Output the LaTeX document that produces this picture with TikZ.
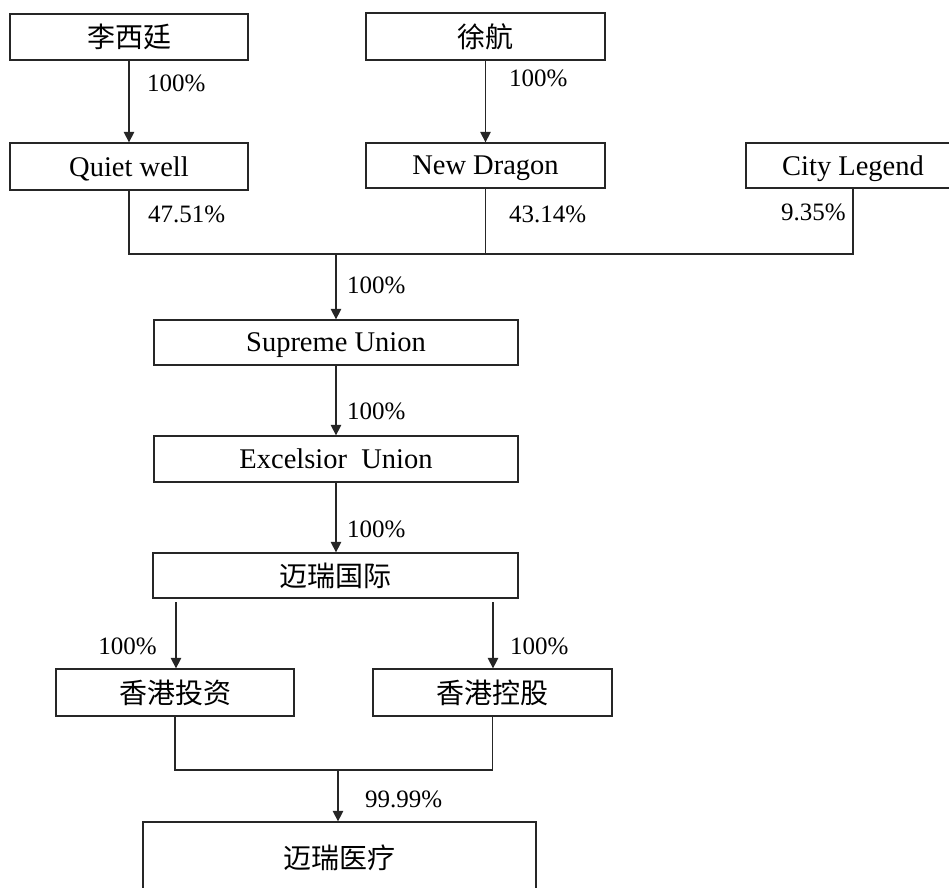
\documentclass[tikz,border=0pt]{standalone}
\usepackage{fontspec}
\setmainfont{Liberation Serif}
\newfontfamily\cjk{Noto Sans CJK SC}
\usetikzlibrary{arrows.meta}
\begin{document}
\begin{tikzpicture}[x=1pt,y=-1pt,
  box/.style={draw=black!85,line width=1.3pt,rectangle,inner sep=0pt,anchor=center},
  lat/.style={font=\fontsize{28.5}{32}\selectfont,text depth=0pt},
  zh/.style={font=\fontsize{28}{32}\selectfont\cjk},
  pct/.style={inner sep=0pt,font=\fontsize{25}{30}\selectfont},
  conn/.style={draw=black!85,line width=1.3pt},
  arr/.style={conn,-{Triangle[length=10.5pt,width=10.5pt]}}]
\useasboundingbox (0,0) rectangle (949,887);
% boxes
\node[box,zh,minimum width=238,minimum height=46] (n1) at (129,37) {李西廷};
\node[box,zh,minimum width=239,minimum height=47] (n2) at (485.5,36.5) {徐航};
\node[box,lat,minimum width=238,minimum height=47] (qw) at (129,166.5) {Quiet well};
\node[box,lat,minimum width=239,minimum height=45] (nd) at (485.5,165.5) {New Dragon};
\node[box,lat,minimum width=214,minimum height=45] (cl) at (853,165.5) {City Legend};
\node[box,lat,minimum width=364,minimum height=45] (su) at (336,342.5) {Supreme Union};
\node[box,lat,minimum width=364,minimum height=46] (eu) at (336,459) {Excelsior\ \ Union};
\node[box,zh,minimum width=365,minimum height=45] (mi) at (335.5,575.5) {迈瑞国际};
\node[box,zh,minimum width=238,minimum height=47] (hi) at (175,692.5) {香港投资};
\node[box,zh,minimum width=239,minimum height=47] (hc) at (492.5,692.5) {香港控股};
\node[box,zh,minimum width=393,minimum height=72] (mm) at (339.5,858) {迈瑞医疗};
% junctions
\coordinate (j1) at (336,254);
\coordinate (j2) at (338,770);
\coordinate (mL) at (176,602);
\coordinate (mR) at (493,602);
% connectors
\draw[arr] (n1.south) -- (qw.north);
\draw[arr] (n2.south) -- (nd.north);
\draw[conn] (qw.south) |- (j1);
\draw[conn] (nd.south) -- (nd.south |- j1);
\draw[conn] (cl.south) |- (j1);
\draw[arr] (j1) -- (su.north);
\draw[arr] (su.south) -- (eu.north);
\draw[arr] (eu.south) -- (eu.south |- mi.north);
\draw[arr] (mL) -- (mL |- hi.north);
\draw[arr] (mR) -- (mR |- hc.north);
\draw[conn] (hi.south) |- (j2);
\draw[conn] (hc.south) |- (j2);
\draw[arr] (j2) -- (j2 |- mm.north);
% labels
\node[pct,anchor=west] (l1) at (147,83) {100\%};
\node[pct,anchor=west] (l2) at (509,78) {100\%};
\node[pct,anchor=west] (l3) at (148,214) {47.51\%};
\node[pct,anchor=west] (l4) at (509,214) {43.14\%};
\node[pct,anchor=east] (l5) at (846,212) {9.35\%};
\node[pct,anchor=west] (l6) at (347,285) {100\%};
\node[pct,anchor=west] (l7) at (347,411) {100\%};
\node[pct,anchor=west] (l8) at (347,529) {100\%};
\node[pct,anchor=east] (l9) at (157,646) {100\%};
\node[pct,anchor=west] (l10) at (510,646) {100\%};
\node[pct,anchor=west] (l11) at (365,799) {99.99\%};
\end{tikzpicture}
\end{document}
